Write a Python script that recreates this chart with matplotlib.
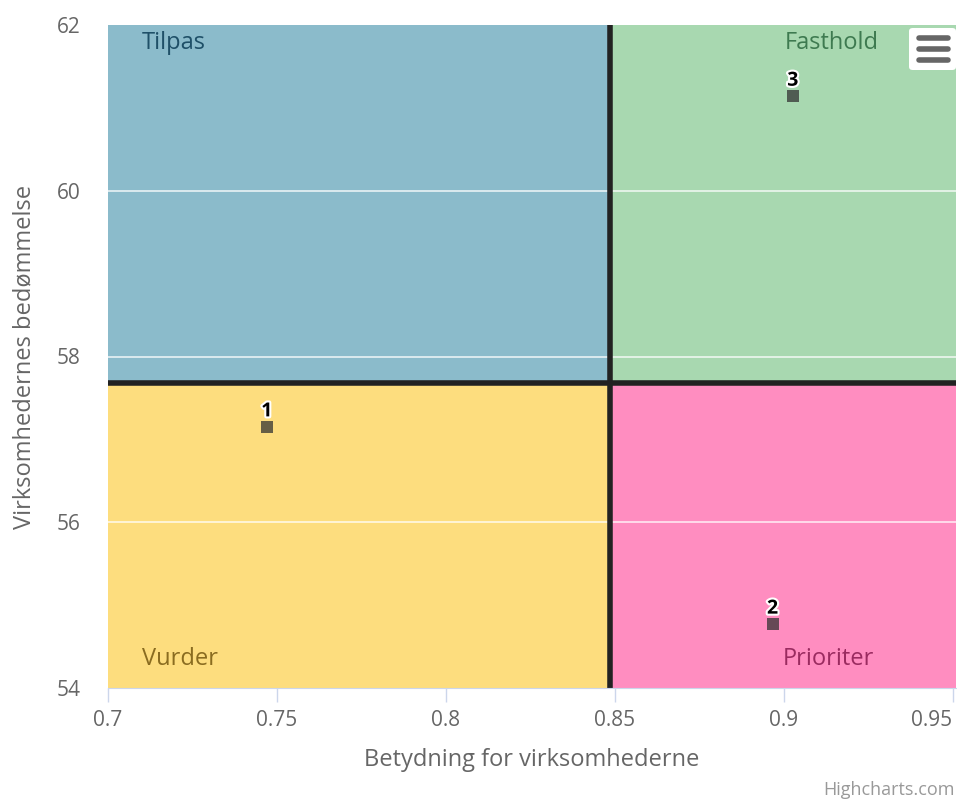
import matplotlib.pyplot as plt
import matplotlib.patches as mpatches
import matplotlib.patheffects as pe

# data
x_vals = [0.747, 0.8967, 0.9027]
y_vals = [57.15, 54.77, 61.14]
point_labels = ["1", "2", "3"]

x_split = 0.8485
y_split = 57.68
x_min, x_max = 0.7, 0.951
y_min, y_max = 54, 62

x_ticks = [0.7, 0.75, 0.8, 0.85, 0.9, 0.95]
x_tick_labels = ["0.7", "0.75", "0.8", "0.85", "0.9", "0.95"]
y_ticks = [54, 56, 58, 60, 62]

quadrant_names = ["Tilpas", "Fasthold", "Vurder", "Prioriter"]
quadrant_colors = ["#8bbbcb", "#a8d8b0", "#fddd7e", "#ff8dc0"]
quadrant_text_colors = ["#1f5068", "#3e7a50", "#8a6c20", "#9a2b60"]

plt.rcParams['font.family'] = ['Open Sans', 'DejaVu Sans']

fig = plt.figure(figsize=(9.57, 8), dpi=100)
ax = fig.add_axes([108/957, 112/800, 848/957, 663/800])

# quadrant backgrounds
quads = [(x_min, y_split, x_split - x_min, y_max - y_split),
         (x_split, y_split, x_max - x_split, y_max - y_split),
         (x_min, y_min, x_split - x_min, y_split - y_min),
         (x_split, y_min, x_max - x_split, y_split - y_min)]
for (qx, qy, qw, qh), c in zip(quads, quadrant_colors):
    ax.add_patch(mpatches.Rectangle((qx, qy), qw, qh, color=c, zorder=0, lw=0))

for yt in y_ticks[1:-1]:
    ax.axhline(yt, color="white", lw=1.2, alpha=0.8, zorder=1)

ax.axvline(x_split, color="#222222", lw=4, zorder=2)
ax.axhline(y_split, color="#222222", lw=4, zorder=2)

# quadrant names
qfs = 17
ax.text(0.710, 61.93, quadrant_names[0], color=quadrant_text_colors[0], fontsize=qfs, va="top", ha="left", zorder=3)
ax.text(0.9280, 61.93, quadrant_names[1], color=quadrant_text_colors[1], fontsize=qfs, va="top", ha="right", zorder=3)
ax.text(0.710, 54.20, quadrant_names[2], color=quadrant_text_colors[2], fontsize=qfs, va="bottom", ha="left", zorder=3)
ax.text(0.9268, 54.20, quadrant_names[3], color=quadrant_text_colors[3], fontsize=qfs, va="bottom", ha="right", zorder=3)

ax.scatter(x_vals, y_vals, marker="s", s=80, color="#333333", alpha=0.75, lw=0, zorder=4)
for xv, yv, lab in zip(x_vals, y_vals, point_labels):
    ax.annotate(lab, (xv, yv), xytext=(0, 4), textcoords="offset points",
                ha="center", va="bottom", fontsize=14, fontweight="bold", color="black", zorder=5,
                path_effects=[pe.withStroke(linewidth=3, foreground="white")])

ax.set_xlim(x_min, x_max)
ax.set_ylim(y_min, y_max)
ax.set_xticks(x_ticks)
ax.set_xticklabels(x_tick_labels)
ax.set_yticks(y_ticks)
# keep the last label inside the figure, like the original
ax.get_xticklabels()[-1].set_horizontalalignment("right")
ax.get_xticklabels()[-1].set_x(0.9512)

for s in ["top", "right", "left"]:
    ax.spines[s].set_visible(False)
ax.spines["bottom"].set_color("#ccd6eb")
ax.tick_params(axis="x", colors="#ccd6eb", length=10, width=1, labelcolor="#666666", labelsize=15, pad=6)
ax.tick_params(axis="y", length=0, labelcolor="#666666", labelsize=15, pad=20)

ax.set_xlabel("Betydning for virksomhederne", color="#666666", fontsize=17, labelpad=12)
ax.set_ylabel("Virksomhedernes bedømmelse", color="#666666", fontsize=17, labelpad=14)

# export menu button
btn = mpatches.FancyBboxPatch((909/957, 1 - 70/800), 47/957, 42/800,
                              boxstyle="round,pad=0,rounding_size=0.004",
                              transform=fig.transFigure, facecolor="white", edgecolor="none", zorder=10)
fig.patches.append(btn)
for yy in [38, 49, 60]:
    fig.add_artist(plt.Line2D([919/957, 948/957], [1 - yy/800, 1 - yy/800],
                              transform=fig.transFigure, color="#666666", lw=4,
                              solid_capstyle="round", zorder=11))

fig.text(955/957, 1 - 790/800, "Highcharts.com", ha="right", va="center", fontsize=13, color="#999999")

fig.savefig("out.png", dpi=100)
